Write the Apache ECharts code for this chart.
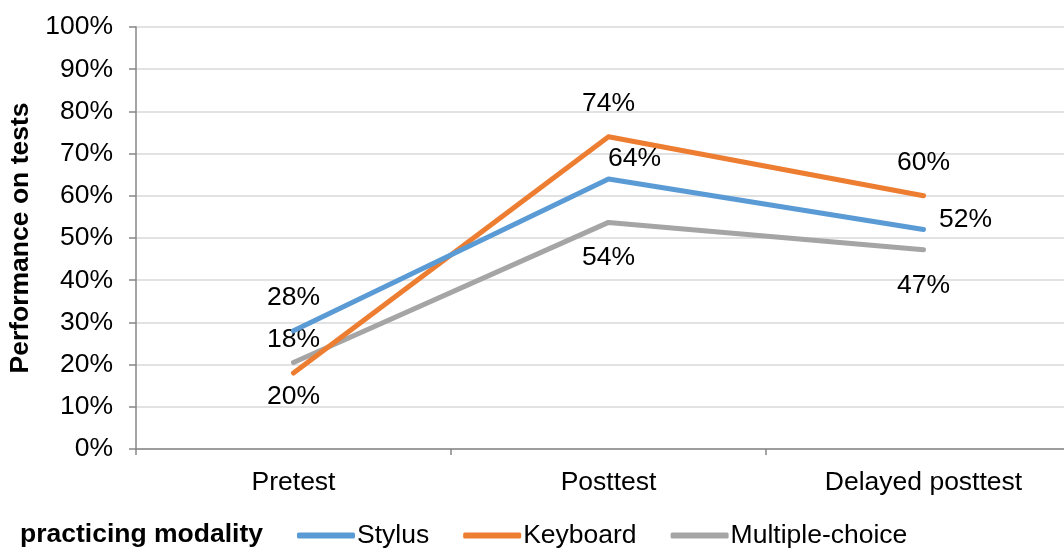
<!DOCTYPE html>
<html>
<head>
<meta charset="utf-8">
<script src="https://cdn.jsdelivr.net/npm/echarts@6/dist/echarts.min.js"></script>
<style>
	html, body { margin: 0; padding: 0; background: #fff; }
	#chart { width: 1064px; height: 548px; }
</style>
</head>
<body>
<div id="chart"></div>
<script>
	// data
	var categories = ['Pretest', 'Posttest', 'Delayed posttest'];
	var seriesNames = ['Stylus', 'Keyboard', 'Multiple-choice'];
	var stylus = [28, 64, 52];
	var keyboard = [18, 74, 60];
	var multipleChoice = [20.5, 53.7, 47.2];
	var stylusLabels = ['28%', '64%', '52%'];
	var keyboardLabels = ['18%', '74%', '60%'];
	var multipleChoiceLabels = ['20%', '54%', '47%'];
	var yTicks = [0, 10, 20, 30, 40, 50, 60, 70, 80, 90, 100];

	var colors = ['#5B9BD5', '#ED7D31', '#A5A5A5'];
	var font = 'Liberation Sans, Arial, sans-serif';
	var fs = 26.5;

	// where each value label sits relative to its point
	var offsets = [
		[[0, -33], [26, -20], [42, -10]],
		[[0, -33], [0, -33], [0, -33]],
		[[0, 34], [0, 35], [0, 36]]
	];

	function buildSeries(idx, values, labels) {
		return {
			name: seriesNames[idx],
			type: 'line',
			symbol: 'circle',
			symbolSize: 0,
			showSymbol: true,
			z: 3 - idx,
			lineStyle: { width: 5, color: colors[idx], cap: 'round', join: 'round' },
			itemStyle: { color: colors[idx] },
			data: values.map(function (v, i) {
				return {
					value: v,
					label: {
						show: true,
						position: 'inside',
						offset: offsets[idx][i],
						formatter: labels[i],
						fontSize: fs,
						fontFamily: font,
						color: '#000'
					}
				};
			}),
			animation: false
		};
	}

	var chart = echarts.init(document.getElementById('chart'));
	chart.setOption({
		animation: false,
		color: colors,
		title: {
			text: 'practicing modality',
			left: 20,
			top: 521,
			padding: 0,
			textStyle: { fontSize: fs, fontWeight: 'bold', fontFamily: font, color: '#000' }
		},
		legend: {
			left: 297,
			top: 522,
			padding: 0,
			itemWidth: 58,
			itemHeight: 6,
			itemGap: 34,
			icon: 'roundRect',
			textStyle: { fontSize: fs, fontFamily: font, color: '#000', padding: [0, 0, 0, -3] },
			data: seriesNames
		},
		grid: { left: 136, width: 945, top: 27, bottom: 99, containLabel: false, outerBoundsMode: 'none' },
		xAxis: {
			type: 'category',
			data: categories,
			boundaryGap: true,
			axisLine: { lineStyle: { color: '#868686', width: 1.5 } },
			axisTick: { show: true, length: 6, lineStyle: { color: '#868686', width: 1.5 } },
			axisLabel: { fontSize: fs, fontFamily: font, color: '#000', margin: 20 }
		},
		yAxis: {
			type: 'value',
			min: yTicks[0],
			max: yTicks[yTicks.length - 1],
			interval: 10,
			name: 'Performance on tests',
			nameLocation: 'middle',
			nameGap: 100,
			nameTextStyle: { fontSize: fs, fontWeight: 'bold', fontFamily: font, color: '#000' },
			axisLine: { show: true, lineStyle: { color: '#868686', width: 1.5 } },
			axisTick: { show: true, length: 7, lineStyle: { color: '#868686', width: 1.5 } },
			axisLabel: { fontSize: fs, fontFamily: font, color: '#000', margin: 23, formatter: '{value}%' },
			splitLine: { lineStyle: { color: '#D9D9D9', width: 1.5 } }
		},
		series: [
			buildSeries(0, stylus, stylusLabels),
			buildSeries(1, keyboard, keyboardLabels),
			buildSeries(2, multipleChoice, multipleChoiceLabels)
		]
	});
</script>
</body>
</html>
